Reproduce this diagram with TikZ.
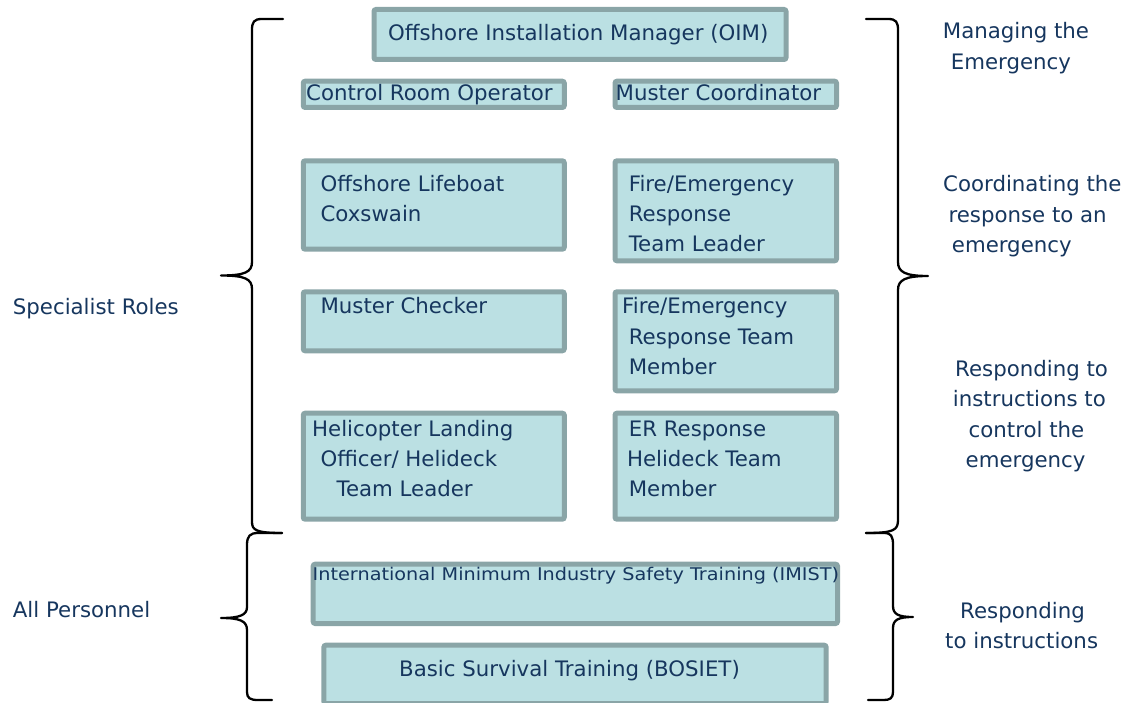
\documentclass[tikz,border=0pt]{standalone}
\usepackage{fontspec}
\setmainfont{DejaVu Sans}
\newcommand{\rolesize}{\fontsize{21.3}{30}\selectfont}
\newcommand{\smallrolesize}{\fontsize{17.5}{24}\selectfont}
\definecolor{boxfill}{RGB}{187,224,227}
\definecolor{boxline}{RGB}{138,165,167}
\definecolor{textblue}{RGB}{22,54,94}
\tikzset{
  role/.style={draw=boxline, line width=5pt, fill=boxfill, rounded corners=2pt,
    inner sep=0pt},
  txt/.style={anchor=base west, inner sep=0pt, text=textblue, font=\rolesize},
  brace/.style={draw=black, line width=2.3pt, line cap=round, line join=round},
}
\begin{document}
\begin{tikzpicture}[x=1pt, y=-1pt]
\useasboundingbox (0,0) rectangle (1125,703);
\clip (0,0) rectangle (1125,703);

% role boxes
\node[role, minimum width=412pt, minimum height=50pt] (oim) at (580,34.5) {};
\node[role, minimum width=261pt, minimum height=26.3pt] (cro) at (433.75,94.35) {};
\node[role, minimum width=221.5pt, minimum height=26.3pt] (mco) at (725.75,94.35) {};
\node[role, minimum width=261pt, minimum height=88.4pt] (olc) at (433.75,205) {};
\node[role, minimum width=221.5pt, minimum height=100pt] (fel) at (725.75,210.8) {};
\node[role, minimum width=261pt, minimum height=59pt] (mch) at (433.75,321.3) {};
\node[role, minimum width=221.5pt, minimum height=99pt] (fem) at (725.75,341.3) {};
\node[role, minimum width=261pt, minimum height=106pt] (hlo) at (433.75,466.2) {};
\node[role, minimum width=221.5pt, minimum height=106pt] (erh) at (725.75,466.2) {};
\node[role, minimum width=524.3pt, minimum height=59.3pt] (imist) at (575.35,593.85) {};
\node[role, minimum width=502.2pt, minimum height=58.3pt] (bos) at (575,674.35) {};

% box texts
\node[txt] (oimA) at (388,40.7) {Offshore Installation Manager (OIM)};
\node[txt] (croA) at (306,100.7) {Control Room Operator};
\node[txt] (mcoA) at (615.5,100.7) {Muster Coordinator};
\node[txt] (olcA) at (320.4,191.7) {Offshore Lifeboat};
\node[txt] (olcB) at (320.4,221.7) {Coxswain};
\node[txt] (felA) at (628.6,191.7) {Fire/Emergency};
\node[txt] (felB) at (628.6,221.7) {Response};
\node[txt] (felC) at (628.6,251.7) {Team Leader};
\node[txt] (mchA) at (320.4,313.3) {Muster Checker};
\node[txt] (femA) at (622,313.3) {Fire/Emergency};
\node[txt] (femB) at (628.6,345) {Response Team};
\node[txt] (femC) at (628.6,375) {Member};
\node[txt] (hloA) at (312,436.7) {Helicopter Landing};
\node[txt] (hloB) at (320.4,466.7) {Officer/ Helideck};
\node[txt] (hloC) at (336.4,496.7) {Team Leader};
\node[txt] (erhA) at (628.6,436.7) {ER Response};
\node[txt] (erhB) at (626.8,466.7) {Helideck Team};
\node[txt] (erhC) at (628.6,496.7) {Member};
\node[txt, font=\smallrolesize] (imistA) at (312.5,580)
  {\scalebox{1.1}[1]{International Minimum Industry Safety Training (IMIST)}};
\node[txt] (bosA) at (399,676.7) {Basic Survival Training (BOSIET)};

% group labels on the left
\node[txt] (spec) at (12.7,314.3) {Specialist Roles};
\node[txt] (allp) at (12.7,617.3) {All Personnel};

% level descriptions on the right
\node[txt] (manA) at (942.7,38.8) {Managing the};
\node[txt] (manB) at (950.7,69.3) {Emergency};
\node[txt] (cooA) at (943,191.7) {Coordinating the};
\node[txt] (cooB) at (948.3,222.3) {response to an};
\node[txt] (cooC) at (951.7,252.7) {emergency};
\node[txt] (resA) at (955,376.7) {Responding to};
\node[txt] (resB) at (952.7,406.3) {instructions to};
\node[txt] (resC) at (968.5,437.3) {control the};
\node[txt] (resD) at (965.5,467) {emergency};
\node[txt] (insA) at (960,618.3) {Responding};
\node[txt] (insB) at (945,648.3) {to instructions};

% left braces
\draw[brace] (283,19) -- (262,19) .. controls (254,19) and (252,22) .. (252,30)
  -- (252,262) .. controls (252,272) and (245,275.5) .. (221,275.5)
  .. controls (245,275.5) and (252,279) .. (252,289)
  -- (252,522) .. controls (252,530) and (256,533) .. (282,533);
\draw[brace] (282,533) -- (258,533) .. controls (250,533) and (247,536) .. (247,545)
  -- (247,607) .. controls (247,615) and (240,618) .. (221,618)
  .. controls (240,618) and (247,621) .. (247,630)
  -- (247,692) .. controls (247,698) and (250,700) .. (258,700) -- (272,700);

% right braces
\draw[brace] (866,19) -- (888,19) .. controls (896,19) and (898,22) .. (898,30)
  -- (898,262) .. controls (898,272) and (905,276) .. (928,276)
  .. controls (905,276) and (898,280) .. (898,290)
  -- (898,520) .. controls (898,530) and (894,533) .. (866,533);
\draw[brace] (866,533) -- (884,533) .. controls (891,533) and (893,536) .. (893,545)
  -- (893,606) .. controls (893,614) and (898,617) .. (913,617)
  .. controls (898,617) and (893,620) .. (893,628)
  -- (893,692) .. controls (893,698) and (890,700) .. (884,700) -- (868,700);
\end{tikzpicture}
\end{document}
